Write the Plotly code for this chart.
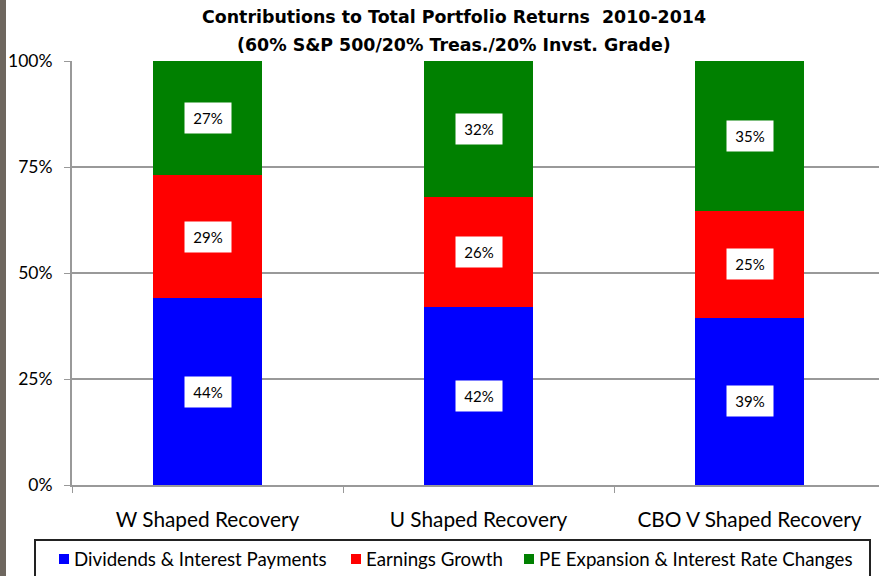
import plotly.graph_objects as go

categories = ["W Shaped Recovery", "U Shaped Recovery", "CBO V Shaped Recovery"]
dividends = [44, 42, 39]
earnings = [29, 26, 25]
pe_expansion = [27, 32, 35]
series_names = ["Dividends &amp; Interest Payments", "Earnings Growth", "PE Expansion &amp; Interest Rate Changes"]
colors = ["#0000FF", "#FF0000", "#008000"]
ytick_vals = [0, 25, 50, 75, 100]
ytick_text = ["0%", "25%", "50%", "75%", "100%"]
title_lines = ["Contributions to Total Portfolio Returns  2010-2014",
               "(60% S&amp;P 500/20% Treas./20% Invst. Grade)"]

FONT = "Lato"
TFONT = "DejaVu Sans"
series = [dividends, earnings, pe_expansion]

# plot-area geometry in pixels (for converting layout positions to paper coordinates)
W, H = 879, 576
L, R, T, B = 72, 0, 61, 91
PW, PH = W - L - R, H - T - B


def px(x):
    return (x - L) / PW


def py(y):
    return (H - B - y) / PH


fig = go.Figure()
for name, vals, col in zip(series_names, series, colors):
    fig.add_trace(go.Bar(x=categories, y=vals, name=name, marker=dict(color=col, line=dict(width=0)),
                         width=0.4, showlegend=False))

# labels with white boxes centred on each segment
for i, cat in enumerate(categories):
    total = sum(s[i] for s in series)
    base = 0.0
    for vals in series:
        h = vals[i] / total * 100
        fig.add_annotation(x=cat, y=base + h / 2, text=f"{vals[i]}%", showarrow=False,
                           bgcolor="white", borderpad=4, width=38, height=22,
                           font=dict(size=15, color="black", family=FONT))
        base += h

# grey strip at the left edge
fig.add_shape(type="rect", xref="paper", yref="paper", x0=px(0), x1=px(6), y0=py(H + 5), y1=py(-5),
              fillcolor="#6e675f", line=dict(width=0))

# legend box (drawn by hand to mimic the compact legend of the original)
fig.add_shape(type="rect", xref="paper", yref="paper", x0=px(35), x1=px(870), y0=py(600), y1=py(540),
              fillcolor="white", line=dict(color="#222222", width=2))
legend_sq_x = [59, 351, 524]
legend_txt_x = [72, 364, 537]
for name, col, sx, tx in zip(series_names, colors, legend_sq_x, legend_txt_x):
    fig.add_shape(type="rect", xref="paper", yref="paper", x0=px(sx), x1=px(sx + 10), y0=py(564), y1=py(554),
                  fillcolor=col, line=dict(width=0))
    fig.add_annotation(xref="paper", yref="paper", x=px(tx), y=py(559), xanchor="left", yanchor="middle",
                       text=name, showarrow=False, font=dict(size=18.7, family=FONT, color="black"))

# second title line
fig.add_annotation(xref="paper", yref="paper", x=px(454), y=py(45), xanchor="center", yanchor="middle",
                   text=f"<b>{title_lines[1]}</b>", showarrow=False, font=dict(size=17.4, family=TFONT, color="black"))

fig.update_layout(
    barmode="stack", barnorm="percent",
    width=W, height=H,
    margin=dict(l=L, r=R, t=T, b=B, autoexpand=False),
    paper_bgcolor="white", plot_bgcolor="white",
    font=dict(family=FONT, color="black"),
    title=dict(text=f"<b>{title_lines[0]}</b>",
               xref="container", x=454 / W, xanchor="center", yref="container", y=1 - 17 / H, yanchor="middle",
               font=dict(size=17.4, family=TFONT)),
    xaxis=dict(type="category", range=[-0.5, -0.5 + PW / 271], tickson="boundaries", ticks="outside",
               ticklen=6, tickcolor="#999999", showline=True, linecolor="#999999", linewidth=2,
               tickfont=dict(size=20.8, family=FONT), ticklabelstandoff=15, showgrid=False, automargin=False),
    yaxis=dict(range=[0, 100], tickvals=ytick_vals, ticktext=ytick_text, ticks="outside", ticklen=6,
               tickcolor="#999999", showline=True, linecolor="#999999", linewidth=2,
               showgrid=True, gridcolor="#999999", gridwidth=2, zeroline=False, ticklabelstandoff=8,
               tickfont=dict(size=17.5, family=FONT), automargin=False),
    showlegend=False,
)

fig.write_html("out.html", config={"displayModeBar": False},
               post_script="document.body.style.margin='0px';")
